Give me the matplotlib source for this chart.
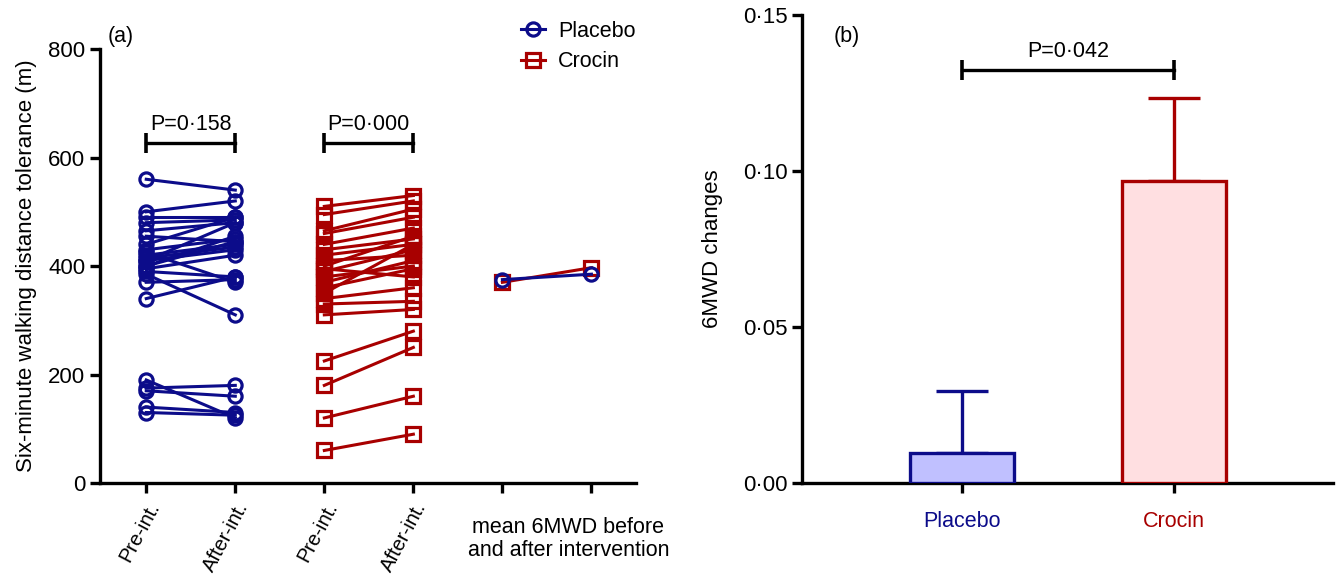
import matplotlib
matplotlib.use("Agg")
import matplotlib.pyplot as plt
import numpy as np

plt.rcParams['font.family'] = ['Liberation Sans', 'DejaVu Sans']

NAVY = "#0c0c8a"
DARKRED = "#a80000"

# panel (a) data: paired 6MWD values (m), before / after intervention
placebo_pre = [560, 500, 490, 480, 465, 455, 440, 430, 420, 415, 410, 400, 395, 390,
               385, 370, 340, 410, 425, 400, 190, 175, 170, 140, 130]
placebo_post = [540, 520, 490, 485, 480, 445, 490, 450, 440, 435, 430, 445, 420, 380,
                310, 375, 380, 480, 370, 455, 120, 180, 160, 130, 125]
crocin_pre = [510, 495, 465, 460, 440, 430, 420, 410, 400, 390, 380, 370, 360, 350,
              340, 330, 310, 395, 225, 180, 120, 60]
crocin_post = [530, 520, 505, 490, 470, 450, 440, 420, 455, 430, 400, 410, 395, 440,
               360, 335, 320, 380, 280, 250, 160, 90]
mean_placebo = [375, 385]
mean_crocin = [370, 397]

xtick_labels = ["Pre-int.", "After-int.", "Pre-int.", "After-int.", "", ""]

# panel (b) data
groups = ["Placebo", "Crocin"]
changes = [0.0095, 0.0968]
changes_err = [0.020, 0.0266]

FS = 15.5

fig = plt.figure(figsize=(13.38, 5.74), dpi=100)
ax1 = fig.add_axes([0.0747, 0.1585, 0.4006, 0.756])
ax2 = fig.add_axes([0.5994, 0.1585, 0.397, 0.8153])

lw = 2.2
mk = dict(mfc="none", mew=2.3)
for a, b in zip(placebo_pre, placebo_post):
    ax1.plot([0, 1], [a, b], color=NAVY, lw=lw, marker="o", ms=9.5, **mk)
for a, b in zip(crocin_pre, crocin_post):
    ax1.plot([2, 3], [a, b], color=DARKRED, lw=lw, marker="s", ms=10, **mk)
ax1.plot([4, 5], mean_crocin, color=DARKRED, lw=lw, marker="s", ms=10, **mk)
ax1.plot([4, 5], mean_placebo, color=NAVY, lw=lw, marker="o", ms=9.5, **mk)

# legend handles
ax1.plot([], [], color=NAVY, lw=lw, marker="o", ms=9.5, label="Placebo", **mk)
ax1.plot([], [], color=DARKRED, lw=lw, marker="s", ms=10, label="Crocin", **mk)
ax1.legend(loc="upper right", bbox_to_anchor=(1.035, 1.11), frameon=False,
           fontsize=FS, handlelength=1.1, handletextpad=0.6, labelspacing=0.45)

ax1.set_xlim(-0.52, 5.5)
ax1.set_ylim(0, 800)
ax1.set_yticks([0, 200, 400, 600, 800])
ax1.set_xticks(range(6))
ax1.set_xticklabels(xtick_labels, rotation=62, ha="right", rotation_mode="anchor",
                    fontsize=14.5)
ax1.tick_params(axis="x", pad=4)
ax1.set_ylabel("Six-minute walking distance tolerance (m)", fontsize=16, labelpad=8)
ax1.text(4.74, -62, "mean 6MWD before\nand after intervention", ha="center", va="top",
         fontsize=FS, linespacing=1.15)
ax1.text(0.015, 1.03, "(a)", transform=ax1.transAxes, fontsize=FS, va="center")

# significance brackets in (a)
for x0, x1, txt in [(0, 1, "P=0\u00b7158"), (2, 3, "P=0\u00b7000")]:
    ax1.plot([x0, x1], [627, 627], color="black", lw=2.4, marker="|", ms=15, mew=2.6)
    ax1.text((x0 + x1) / 2, 642, txt, ha="center", va="bottom", fontsize=FS)

# panel (b)
xb = np.arange(len(groups))
ax2.bar(xb, changes, width=0.49, color=["#c0c0ff", "#ffdfe1"],
        edgecolor=[NAVY, DARKRED], linewidth=2.4, zorder=3)
for i in range(len(groups)):
    col = [NAVY, DARKRED][i]
    ax2.errorbar(xb[i], changes[i], yerr=[[0], [changes_err[i]]], fmt="none",
                 ecolor=col, elinewidth=2.4, capsize=18.5, capthick=2.4, zorder=2)
ax2.set_xlim(-0.755, 1.75)
ax2.set_ylim(0, 0.15)
ax2.set_yticks([0, 0.05, 0.10, 0.15])
ax2.set_yticklabels(["0\u00b700", "0\u00b705", "0\u00b710", "0\u00b715"])
ax2.set_xticks(xb)
ax2.set_xticklabels(groups, fontsize=FS)
for lab, col in zip(ax2.get_xticklabels(), [NAVY, DARKRED]):
    lab.set_color(col)
ax2.tick_params(axis="x", pad=13)
ax2.set_ylabel("6MWD changes", fontsize=16, labelpad=14)
ax2.text(0.06, 0.955, "(b)", transform=ax2.transAxes, fontsize=FS, va="center")
ax2.plot([0, 1], [0.1324, 0.1324], color="black", lw=2.4, marker="|", ms=15, mew=2.6)
ax2.text(0.5, 0.135, "P=0\u00b7042", ha="center", va="bottom", fontsize=FS)

for ax in (ax1, ax2):
    for s in ("top", "right"):
        ax.spines[s].set_visible(False)
    for s in ("left", "bottom"):
        ax.spines[s].set_linewidth(2.4)
    ax.tick_params(width=2.4, length=7)
    ax.tick_params(axis="y", labelsize=16)

fig.savefig("out.png", dpi=100)
